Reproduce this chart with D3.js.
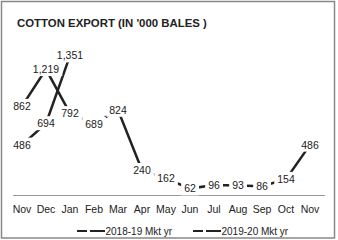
<!DOCTYPE html>
<html>
<head>
<meta charset="utf-8">
<script src="https://cdn.jsdelivr.net/npm/d3@7"></script>
<style>
  body {margin: 0; background: #fff;}
  text {font-family: 'Liberation Sans', Arial, sans-serif; fill: #222;}
</style>
</head>
<body>
<script>
var months = ['Nov','Dec','Jan','Feb','Mar','Apr','May','Jun','Jul','Aug','Sep','Oct','Nov']
var mkt1819 = [862, 1219, 792, 689, 824, 240, 162, 62, 96, 93, 86, 154, 486]
var mkt1920 = [486, 694, 1351]
var seriesNames = ['2018-19 Mkt yr', '2019-20 Mkt yr']

var width = 338, height = 240

var svg = d3.select('body').append('svg')
  .attr('width', width).attr('height', height)

svg.append('rect')
  .attr('x', 1.5).attr('y', 1.5).attr('width', 333).attr('height', 236.5)
  .attr('fill', '#fff').attr('stroke', '#888').attr('stroke-width', 1.5)

svg.append('text')
  .attr('x', 17).attr('y', 26.5)
  .style('font-weight', 'bold').style('font-size', '11.4px')
  .text("COTTON EXPORT (IN '000 BALES )")

var x = d3.scaleBand().domain(d3.range(months.length)).range([10, 322])
var y = d3.scaleLinear().domain([0, 1600]).range([195, 30])

svg.append('line')
  .attr('x1', 13).attr('x2', 325).attr('y1', 195.5).attr('y2', 195.5)
  .attr('stroke', '#999')

svg.selectAll('text.month').data(months).join('text')
  .attr('class', 'month')
  .attr('x', (d, i) => x(i) + x.bandwidth()/2)
  .attr('y', 213)
  .attr('text-anchor', 'middle')
  .style('font-size', '10.5px')
  .text(d => d)

var line = d3.line()
  .x((d, i) => x(i) + x.bandwidth()/2)
  .y(d => y(d))

var allSeries = [mkt1819, mkt1920]

svg.selectAll('path.series').data(allSeries).join('path')
  .attr('class', 'series')
  .attr('d', line)
  .attr('fill', 'none')
  .attr('stroke', '#222')
  .attr('stroke-width', 2.5)

var fmt = d3.format(',')
var labels = []
allSeries.forEach(s => s.forEach((v, i) => labels.push({i, v})))

var lg = svg.selectAll('g.lab').data(labels).join('g')
  .attr('class', 'lab')
  .attr('transform', d => `translate(${x(d.i) + x.bandwidth()/2},${y(d.v)})`)

lg.append('text')
  .attr('text-anchor', 'middle')
  .attr('dy', '0.36em')
  .style('font-size', '10.5px')
  .text(d => fmt(d.v))

lg.each(function(){
  var g = d3.select(this)
  var b = g.select('text').node().getBBox()
  g.insert('rect', 'text')
    .attr('x', b.x - 3).attr('y', b.y - 1)
    .attr('width', b.width + 6).attr('height', b.height + 2)
    .attr('fill', '#fff')
})

var legendX = [77, 193]
var leg = svg.selectAll('g.leg').data(seriesNames).join('g')
  .attr('class', 'leg')
  .attr('transform', (d, i) => `translate(${legendX[i]},231)`)

leg.append('line')
  .attr('x1', 0).attr('x2', 28)
  .attr('stroke', '#222').attr('stroke-width', 2)
  .attr('stroke-dasharray', '10,3,15')

leg.append('text')
  .attr('x', 28.5).attr('dy', '0.35em')
  .style('font-size', '10px')
  .text(d => d)
</script>
</body>
</html>
